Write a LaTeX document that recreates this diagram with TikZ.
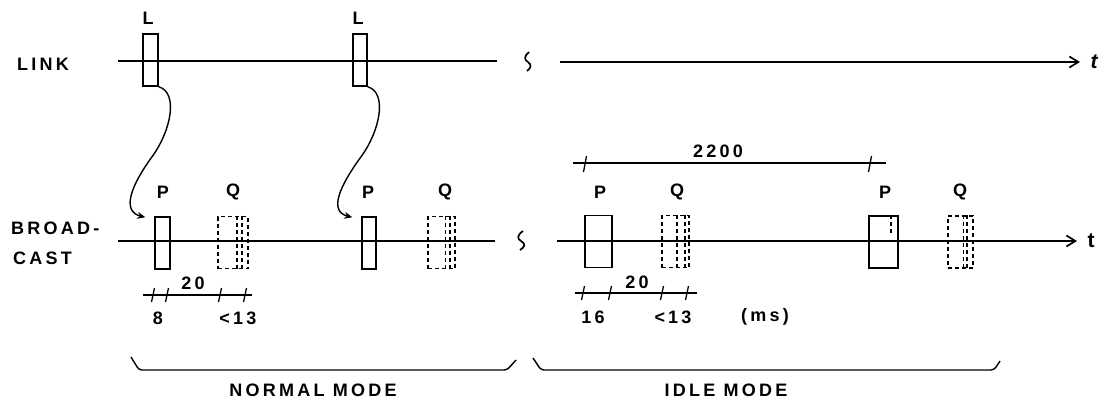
\documentclass[tikz,border=0pt]{standalone}
\usepackage{fontspec}
\setmainfont{Liberation Sans}
\newfontfamily\handfont[LetterSpace=18]{Liberation Sans}
\usetikzlibrary{arrows.meta, calc}

\tikzset{
  lbl/.style={font=\handfont\bfseries\fontsize{18}{20}\selectfont, inner sep=0pt},
  slot/.style={draw, line width=1.5pt, minimum width=#1, minimum height=52pt, inner sep=0pt},
  dslot/.style={slot=#1, dash pattern=on 4pt off 3pt},
  dline/.style={line width=1.2pt, dash pattern=on 4pt off 3pt},
  timeline/.style={line width=1.7pt},
  axis/.style={timeline, -{Straight Barb[length=9pt,width=11pt]}},
  hop/.style={line width=1.4pt, -{Stealth[length=8pt,width=7pt]}},
  dimline/.style={line width=1.5pt},
  tickmark/.style={line width=1.3pt},
  bracket/.style={line width=1.4pt, rounded corners=3pt}
}

\begin{document}
\begin{tikzpicture}[x=1pt, y=-1pt]
  \useasboundingbox (0,0) rectangle (1103,408);

  % Link time line
  \node[lbl, anchor=west] (linklbl) at (17,64) {LINK};
  \draw[timeline] (118,61) -- (497,61);
  \draw[timeline] (529,52) .. controls (524,56) and (524,60) .. (528,62) .. controls (532,65) and (531,68) .. (527,71);
  \draw[axis] (560,62) -- (1080,62);
  \node[lbl, font=\bfseries\itshape\fontsize{21}{23}\selectfont] (t1) at (1094,62) {t};

  % Link slots
  \node[slot=15pt] (L1) at (150.5,60) {};
  \node[slot=14pt] (L2) at (360,60) {};
  \node[lbl] (l1) at (148,18) {L};
  \node[lbl] (l2) at (358,18) {L};

  % Broadcast time line
  \node[lbl, anchor=west] (bclbl) at (11,228) {BROAD-};
  \node[lbl, anchor=west] (bclbl2) at (13,258) {CAST};
  \draw[timeline] (118,241) -- (495,241);
  \draw[timeline] (523,231) .. controls (517,235) and (517,239) .. (521,241) .. controls (526,244) and (525,247) .. (520,250);
  \draw[axis] (557,241) -- (1077,241);
  \node[lbl, font=\bfseries\fontsize{21}{23}\selectfont] (t2) at (1091,241) {t};

  % Normal mode slots
  \node[slot=15pt] (P1) at (162.5,243) {};
  \node[dslot=30pt] (Q1) at (233,242.5) {};
  \node[slot=14pt] (P2) at (369,243) {};
  \node[dslot=27pt] (Q2) at (441.5,242.5) {};
  \draw[dline] ([xshift=4pt]Q1.north) -- ([xshift=4pt]Q1.south);
  \draw[dline] ([xshift=9pt]Q1.north) -- ([xshift=9pt]Q1.south);
  \draw[dline] ([xshift=4pt]Q2.north) -- ([xshift=4pt]Q2.south);
  \draw[dline] ([xshift=8.5pt]Q2.north) -- ([xshift=8.5pt]Q2.south);
  \node[lbl] (p1) at (163,192) {P};
  \node[lbl] (q1) at (233,192) {Q};
  \node[lbl] (p2) at (368,192) {P};
  \node[lbl] (q2) at (445,192) {Q};

  % Idle mode slots
  \node[slot=27pt] (P3) at (598.5,241.5) {};
  \node[dslot=27pt] (Q3) at (675.5,241.5) {};
  \node[slot=29pt] (P4) at (883.5,242) {};
  \node[dslot=25pt] (Q4) at (960.5,242) {};
  \draw[dline] ([xshift=1.5pt]Q3.north) -- ([xshift=1.5pt]Q3.south);
  \draw[dline] ([xshift=9.5pt]Q3.north) -- ([xshift=9.5pt]Q3.south);
  \draw[dline] ([xshift=3pt]Q4.north) -- ([xshift=3pt]Q4.south);
  \draw[dline] ([xshift=6.5pt]Q4.north) -- ([xshift=6.5pt]Q4.south);
  \draw[dline] ([xshift=7.5pt]P4.north) -- ++(0,18);
  \node[lbl] (p3) at (600,192) {P};
  \node[lbl] (q3) at (677,192) {Q};
  \node[lbl] (p4) at (885,192) {P};
  \node[lbl] (q4) at (960,192) {Q};

  % Link slot triggers broadcast
  \draw[hop] (L1.south east) .. controls +(20,6) and +(18,-25) .. ($(L1.south east)+(-6,69)$)
    .. controls +(-22,30) and +(-24,-6) .. ($(P1.north west)+(-9,1)$);
  \draw[hop] (L2.south east) .. controls +(20,6) and +(18,-25) .. ($(L2.south east)+(-6,69)$)
    .. controls +(-22,30) and +(-24,-6) .. ($(P2.north west)+(-9,1)$);

  % Idle period
  \draw[dimline] (573,163) -- (886,163);
  \draw[tickmark] (585,163) +(-1.5,9) -- +(1.5,-7);
  \draw[tickmark] (870,163) +(-1.5,9) -- +(1.5,-7);
  \node[lbl] (period) at (718,151) {2200};

  % Normal mode timing
  \draw[dimline] (143,295) -- (252,295);
  \foreach \x in {153,167,220,245}
    \draw[tickmark] (\x,295) +(-1.5,7) -- +(1.5,-7);
  \node[lbl] (n20) at (193,283) {20};
  \node[lbl] (n8) at (158,318) {8};
  \node[lbl] (n13) at (238,318) {<13};

  % Idle mode timing
  \draw[dimline] (575,293) -- (697,293);
  \foreach \x in {583,610,662,687}
    \draw[tickmark] (\x,293) +(-1.5,7) -- +(1.5,-7);
  \node[lbl] (i20) at (637,282) {20};
  \node[lbl] (i16) at (593,317) {16};
  \node[lbl] (i13) at (673,317) {<13};
  \node[lbl] (unit) at (765,317) {(ms)};

  % Modes
  \draw[bracket] (131,357) -- (139,370) -- (507,370) -- (516,360);
  \node[lbl] (normal) at (313,390) {NORMAL MODE};
  \draw[bracket] (533,358) -- (541,370) -- (994,370) -- (1000,361);
  \node[lbl] (idle) at (726,390) {IDLE MODE};
\end{tikzpicture}
\end{document}
